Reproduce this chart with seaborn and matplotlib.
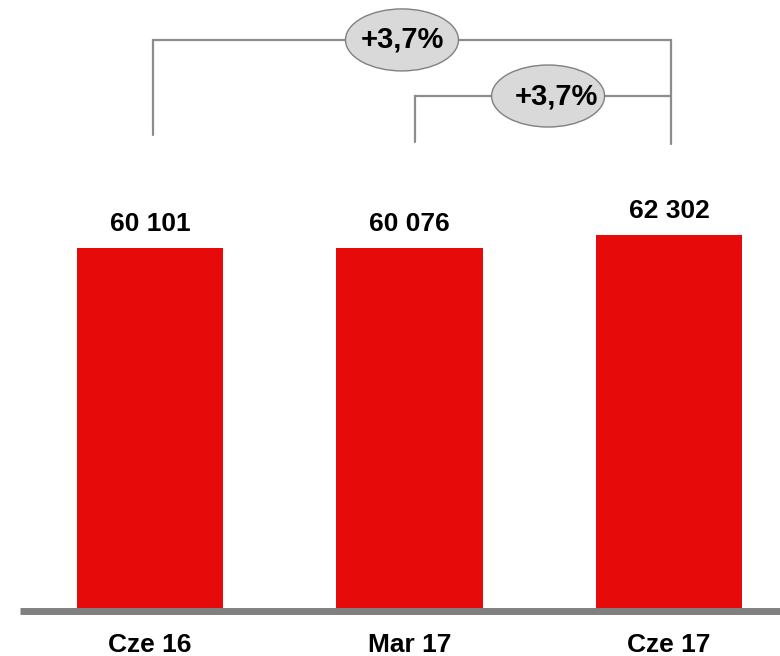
import matplotlib
matplotlib.use("Agg")
import matplotlib.pyplot as plt
from matplotlib.patches import Ellipse
import seaborn as sns
import pandas as pd

categories = ["Cze 16", "Mar 17", "Cze 17"]
values = [60101, 60076, 62302]
value_labels = ["60 101", "60 076", "62 302"]
growth_labels = ["+3,7%", "+3,7%"]

sns.set_theme(style="white")
plt.rcParams["font.family"] = ["Liberation Sans", "DejaVu Sans"]

df = pd.DataFrame({"cat": categories, "val": values})

fig = plt.figure(figsize=(7.8, 6.56), dpi=100)
ax = fig.add_axes([0, 0, 1, 1])
sns.barplot(data=df, x="cat", y="val", color="#E60A0A", saturation=1,
            width=0.563, ax=ax, zorder=2)
for p in ax.patches:
    p.set_edgecolor("none")

k = 362.5 / 60101.0
ax.set_xlim(-150 / 259.5, 630 / 259.5)
ax.set_ylim(-45.5 / k, 610.5 / k)
ax.axis("off")

ax.axhline(0, xmin=20 / 780, xmax=1, color="#808080", lw=5, zorder=3,
           solid_capstyle="butt")

fs = 19
for i, (v, lab) in enumerate(zip(values, value_labels)):
    ax.annotate(lab, xy=(i, v), xytext=(0, 12), textcoords="offset points",
                ha="center", va="baseline", fontsize=fs, fontweight="bold",
                color="black")
    ax.annotate(categories[i], xy=(i, 0), xytext=(0, -30), textcoords="offset points",
                ha="center", va="baseline", fontsize=fs, fontweight="bold",
                color="black")

line_c = "#8C8C8C"
lw = 1.6
bottom = 77800
# big bracket: Cze 16 -> Cze 17
y_big = 94600
ax.plot([0.012, 0.012, 2.008, 2.008], [bottom + 1000, y_big, y_big, bottom - 400],
        color=line_c, lw=lw, zorder=1, solid_joinstyle="miter")
# small bracket: Mar 17 -> Cze 17
y_small = 85300
ax.plot([1.02, 1.02, 2.008], [bottom - 200, y_small, y_small],
        color=line_c, lw=lw, zorder=1, solid_joinstyle="miter")

ew = 113 / 259.5
eh = 62 / k
for (cx, cy, tx), lab in zip([(0.971, y_big, 0.971), (1.534, y_small, 1.567)], growth_labels):
    ax.add_patch(Ellipse((cx, cy), ew, eh, facecolor="#D9D9D9", edgecolor="#808080",
                         lw=1.0, zorder=4))
    ax.text(tx, cy, lab, ha="center", va="center", fontsize=21, fontweight="bold",
            color="black", zorder=5)

fig.savefig("out.png", dpi=100)
